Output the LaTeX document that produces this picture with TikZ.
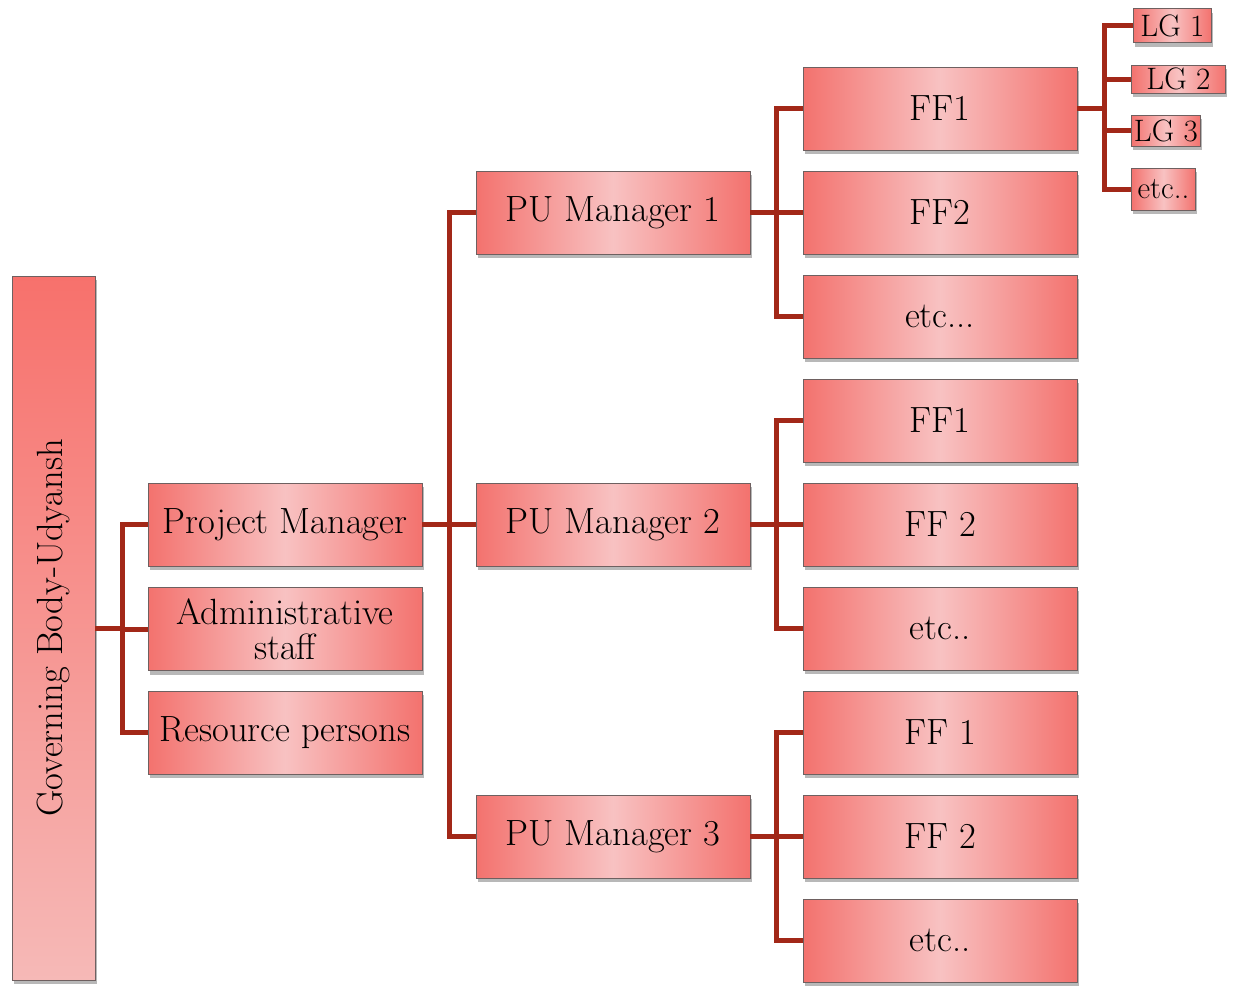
\documentclass[tikz,border=0pt]{standalone}
\usetikzlibrary{shadows}
\definecolor{boxred}{HTML}{F3726E}
\definecolor{boxpink}{HTML}{F8C2C2}
\definecolor{govtop}{HTML}{F7716C}
\definecolor{govbot}{HTML}{F6B9B7}
\definecolor{edgered}{HTML}{A22818}
\definecolor{bordergray}{HTML}{6E6060}
\tikzset{
  box/.style={draw=bordergray, line width=0.9pt, rectangle, inner sep=0pt,
    left color=boxred, right color=boxred, middle color=boxpink,
    drop shadow={shadow xshift=2pt, shadow yshift=-4pt, opacity=0.28, fill=black},
    font=\fontsize{36.5}{35}\selectfont, align=center},
  bigbox/.style={box, minimum width=274pt, minimum height=83pt},
  lgbox/.style={box, minimum height=34pt, font=\fontsize{31}{32}\selectfont, inner xsep=2pt},
  govbox/.style={draw=bordergray, line width=0.9pt, rectangle, inner sep=0pt,
    top color=govtop, bottom color=govbot,
    drop shadow={shadow xshift=2pt, shadow yshift=-4pt, opacity=0.28, fill=black},
    minimum width=83pt, minimum height=704pt},
  conn/.style={draw=edgered, line width=5pt, line join=miter},
}
\begin{document}
\begin{tikzpicture}[x=1pt, y=-1pt]
\useasboundingbox (0,0) rectangle (1236,985);
% governing body
\node[govbox] (gov) at (53.5,628) {};
\node[rotate=90, font=\fontsize{36.5}{36}\selectfont] (govt) at (53.5,628) {Governing Body-Udyansh};
% second level
\node[bigbox] (pm) at (285,524.5) {Project Manager};
\node[bigbox] (adm) at (285,629) {Administrative\\staff};
\node[bigbox] (res) at (285,732.5) {Resource persons};
% PU managers
\node[bigbox] (pu1) at (613,212.5) {PU Manager 1};
\node[bigbox] (pu2) at (613,524.5) {PU Manager 2};
\node[bigbox] (pu3) at (613,836.5) {PU Manager 3};
% FF boxes
\node[bigbox] (f11) at (940,108.5) {FF1};
\node[bigbox] (f12) at (940,212.5) {FF2};
\node[bigbox] (f13) at (940,316.5) {etc...};
\node[bigbox] (f21) at (940,420.5) {FF1};
\node[bigbox] (f22) at (940,524.5) {FF 2};
\node[bigbox] (f23) at (940,628.5) {etc..};
\node[bigbox] (f31) at (940,732.5) {FF 1};
\node[bigbox] (f32) at (940,836.5) {FF 2};
\node[bigbox] (f33) at (940,940.5) {etc..};
% LG boxes
\node[lgbox, anchor=west, minimum width=78pt] (lg1) at (1133,25.5) {LG 1};
\node[lgbox, anchor=west, minimum width=94pt, minimum height=28pt] (lg2) at (1131,79) {LG 2};
\node[lgbox, anchor=west, minimum width=69pt, minimum height=31pt] (lg3) at (1131,130.5) {LG 3};
\node[lgbox, anchor=west, minimum width=64pt, minimum height=42pt] (lg4) at (1131,189) {etc..};
% connectors
\foreach \c in {pm,adm,res} \path[conn] (gov.east) -- ++(27,0) |- (\c.west);
\foreach \c in {pu1,pu2,pu3} \path[conn] (pm.east) -- ++(27,0) |- (\c.west);
\foreach \c in {f11,f12,f13} \path[conn] (pu1.east) -- ++(26,0) |- (\c.west);
\foreach \c in {f21,f22,f23} \path[conn] (pu2.east) -- ++(26,0) |- (\c.west);
\foreach \c in {f31,f32,f33} \path[conn] (pu3.east) -- ++(26,0) |- (\c.west);
\foreach \c in {lg1,lg2,lg3,lg4} \path[conn] (f11.east) -- ++(27,0) |- (\c.west);
\end{tikzpicture}
\end{document}
